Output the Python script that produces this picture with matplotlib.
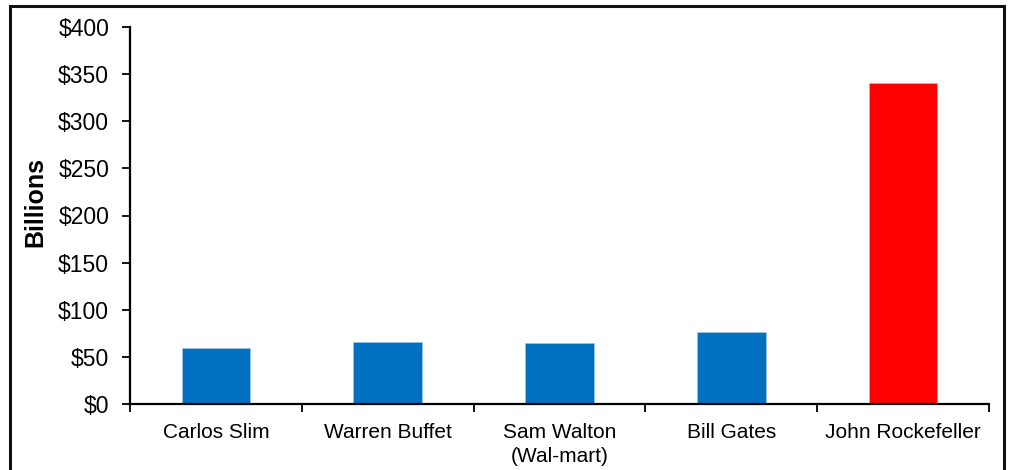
import numpy as np
import matplotlib.pyplot as plt
from matplotlib.patches import Rectangle
from matplotlib.ticker import FuncFormatter

names = ["Carlos Slim", "Warren Buffet", "Sam Walton\n(Wal-mart)", "Bill Gates", "John Rockefeller"]
wealth = [59, 65.5, 64.5, 76.5, 340.5]
bar_colors = ["#0070C0", "#0070C0", "#0070C0", "#0070C0", "#FF0000"]
y_ticks = [0, 50, 100, 150, 200, 250, 300, 350, 400]

plt.rcParams["font.family"] = ["Liberation Sans", "DejaVu Sans"]

fig = plt.figure(figsize=(10.11, 4.70), dpi=100, facecolor="white")
ax = fig.add_axes([130 / 1011, 1 - 404 / 470, 859 / 1011, 377 / 470])

x = np.arange(len(names))
ax.bar(x, wealth, width=0.4, color=bar_colors, edgecolor="#9DC3E6", linewidth=0.6, zorder=2)

ax.set_xlim(-0.5, len(names) - 0.5)
ax.set_ylim(0, 400)
ax.set_yticks(y_ticks)
ax.yaxis.set_major_formatter(FuncFormatter(lambda v, p: f"${v:.0f}"))
ax.tick_params(axis="y", labelsize=16.5, length=6, width=1.3, pad=9, colors="black")

# category boundaries as ticks, names centred between them
ax.set_xticks(np.arange(-0.5, len(names)), labels=[""] * (len(names) + 1))
ax.set_xticks(x, labels=names, minor=True)
ax.tick_params(axis="x", which="major", length=6, width=1.3)
ax.tick_params(axis="x", which="minor", length=0, labelsize=15, pad=14)
for lbl in ax.get_xticklabels(minor=True):
    lbl.set_linespacing(1.3)

for side in ["top", "right"]:
    ax.spines[side].set_visible(False)
for side in ["left", "bottom"]:
    ax.spines[side].set_linewidth(1.6)

ax.set_ylabel("Billions", fontsize=18, fontweight="bold")
ax.yaxis.set_label_coords(-0.0965, 0.537)

# outer frame of the chart area
fig.patches.append(Rectangle((10 / 1011, -0.05), 994 / 1011, 1.05 - 6 / 470,
                             transform=fig.transFigure, fill=False,
                             edgecolor="#111111", linewidth=2.2))

fig.savefig("out.png", dpi=100, facecolor="white")
